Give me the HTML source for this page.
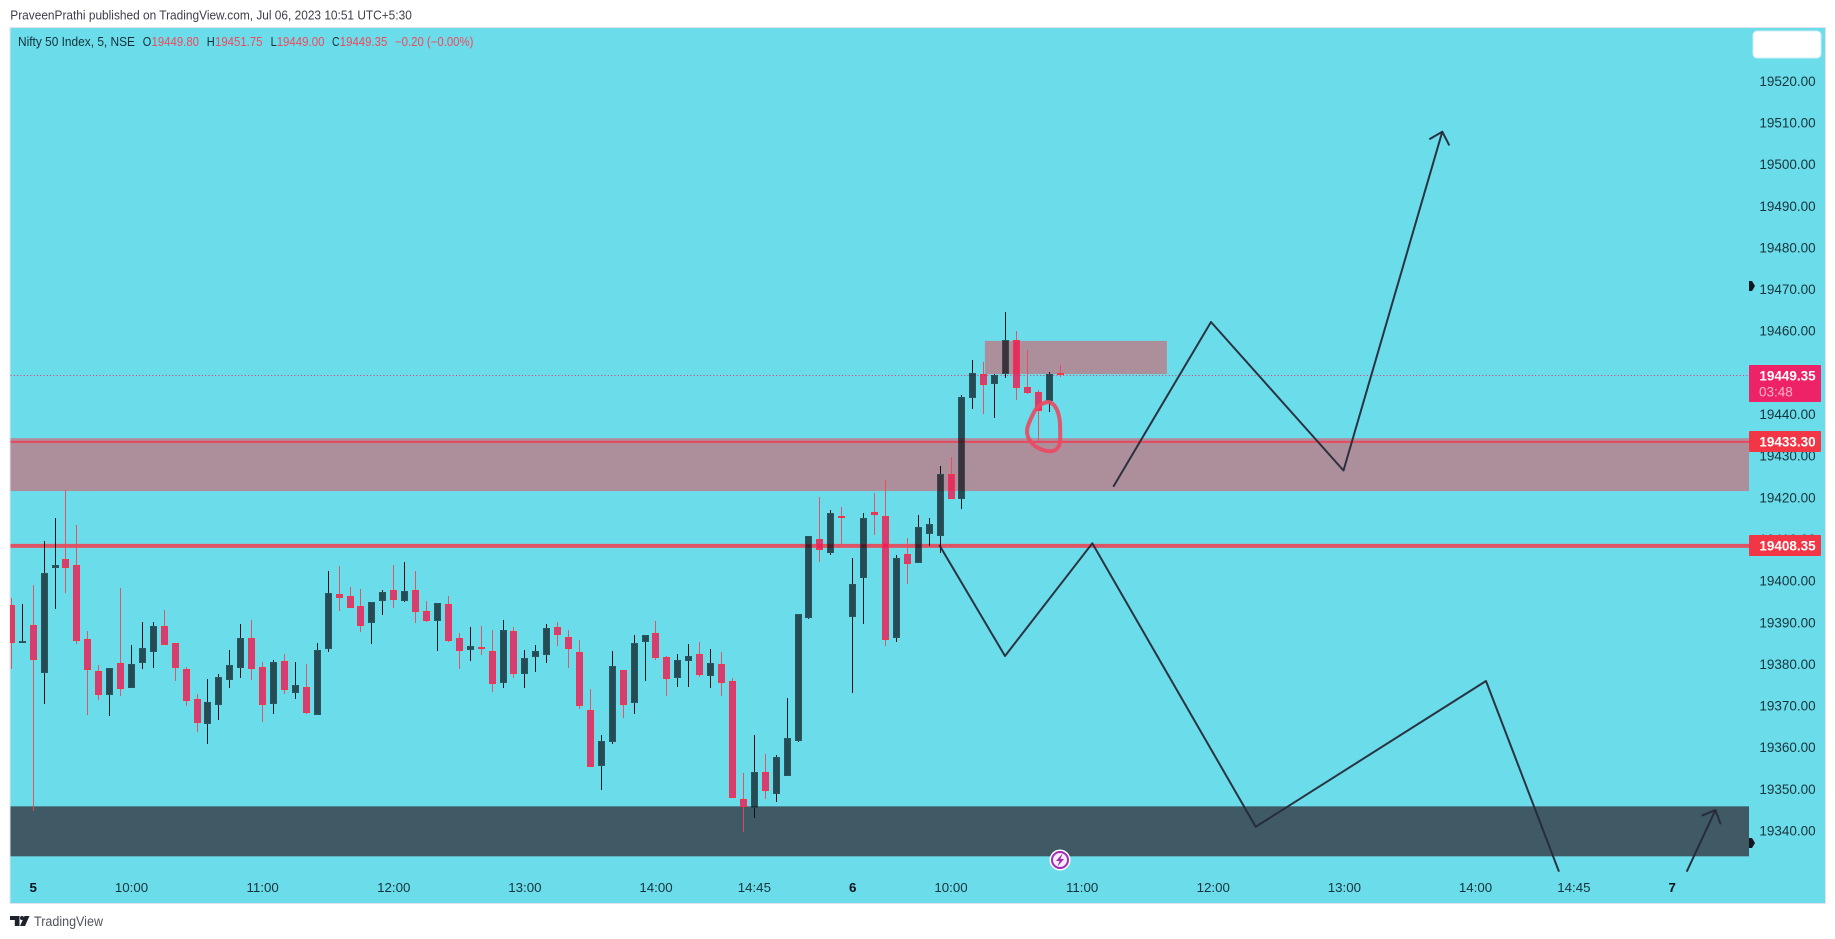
<!DOCTYPE html>
<html lang="en">
<head>
<meta charset="utf-8">
<title>Nifty 50 Index chart</title>
<style>
html,body{margin:0;padding:0;background:#fff;width:1835px;height:939px;overflow:hidden}
svg{display:block;font-family:"Liberation Sans",sans-serif}
</style>
</head>
<body>
<svg id="chart" width="1835" height="939" viewBox="0 0 1835 939" xmlns="http://www.w3.org/2000/svg">
  <rect x="0" y="0" width="1835" height="939" fill="#ffffff"/>
  <text x="10.3" y="19.5" font-size="13" fill="#3c3f4a" textLength="401.5" lengthAdjust="spacingAndGlyphs">PraveenPrathi published on TradingView.com, Jul 06, 2023 10:51 UTC+5:30</text>
  <rect x="10" y="27.5" width="1815.5" height="876" fill="#6bdcea" stroke="#e0e3eb" stroke-width="1"/>
  <g id="zones"></g>
  <g id="levels"></g>
  <g id="candles"></g>
  <g id="drawings"></g>
  <g id="ticks"></g>
  <g id="times"></g>
  <g id="labels"></g>

  <g font-size="12.5">
    <text x="18" y="46" fill="#12303a" textLength="117" lengthAdjust="spacingAndGlyphs">Nifty 50 Index, 5, NSE</text>
    <text x="142.7" y="46" fill="#12303a" textLength="8.5" lengthAdjust="spacingAndGlyphs">O</text>
    <text x="151.5" y="46" fill="#ef4a5c" textLength="47.5" lengthAdjust="spacingAndGlyphs">19449.80</text>
    <text x="206.7" y="46" fill="#12303a" textLength="8" lengthAdjust="spacingAndGlyphs">H</text>
    <text x="215" y="46" fill="#ef4a5c" textLength="47.5" lengthAdjust="spacingAndGlyphs">19451.75</text>
    <text x="270.6" y="46" fill="#12303a" textLength="6" lengthAdjust="spacingAndGlyphs">L</text>
    <text x="276.7" y="46" fill="#ef4a5c" textLength="47.8" lengthAdjust="spacingAndGlyphs">19449.00</text>
    <text x="332" y="46" fill="#12303a" textLength="7.5" lengthAdjust="spacingAndGlyphs">C</text>
    <text x="339.8" y="46" fill="#ef4a5c" textLength="47.5" lengthAdjust="spacingAndGlyphs">19449.35</text>
    <text x="395" y="46" fill="#ef4a5c" textLength="78.4" lengthAdjust="spacingAndGlyphs">−0.20 (−0.00%)</text>
  </g>

  <rect x="1753" y="31" width="68" height="27" rx="4" fill="#ffffff" stroke="#cfeef3" stroke-width="1"/>
  <polygon points="1749,281 1752,281 1755,286 1752,291 1749,291" fill="#131722"/>
  <polygon points="1749,838 1752,838 1755,843 1752,848 1749,848" fill="#131722"/>

  <g>
    <circle cx="1060" cy="860" r="10.5" fill="#ffffff"/>
    <circle cx="1060" cy="860" r="8" fill="#f4ecf6" stroke="#a02cb8" stroke-width="2"/>
    <polygon points="1062.5,853.5 1056,861 1059.5,861 1057.5,866.5 1064,859 1060.5,859" fill="#a02cb8"/>
  </g>

  <g>
    <path d="M10 916h9.5v10h-4.7v-6H10z" fill="#1e222d"/>
    <circle cx="22" cy="918" r="2" fill="#1e222d"/>
    <polygon points="24.5,916 29.5,916 25,926 20,926" fill="#1e222d"/>
    <text x="34" y="926" font-size="13.5" fill="#50535e" textLength="69" lengthAdjust="spacingAndGlyphs">TradingView</text>
  </g>
</svg>

<script>
var opens = [19394.2,19385.1,19389.4,19377.9,19403.1,19405.2,19403.8,19386.0,19378.3,19372.6,19380.2,19374.2,19380.2,19382.9,19389.1,19385.0,19378.8,19371.6,19365.6,19370.2,19376.2,19379.0,19386.2,19379.3,19370.4,19380.7,19373.0,19374.5,19367.8,19383.6,19396.8,19396.3,19393.9,19389.8,19395.1,19397.8,19395.1,19397.8,19392.7,19390.3,19394.4,19386.2,19383.4,19384.1,19383.1,19375.4,19387.9,19377.6,19381.7,19382.2,19388.9,19386.5,19382.9,19369.0,19355.5,19361.3,19378.6,19370.6,19385.3,19387.4,19381.7,19376.6,19380.7,19382.4,19377.1,19380.0,19375.9,19347.6,19345.4,19354.1,19348.8,19353.1,19361.5,19391.0,19410.0,19406.6,19415.5,19391.3,19400.6,19416.5,19415.5,19386.2,19406.4,19404.2,19411.2,19410.7,19425.6,19419.6,19443.8,19449.6,19447.2,19449.6,19457.8,19446.5,19445.3,19443.1,19449.8];
var highs = [19395.8,19394.4,19399.0,19409.5,19415.0,19421.8,19413.4,19387.9,19379.8,19379.0,19398.2,19384.6,19390.1,19390.1,19393.0,19385.0,19379.3,19372.8,19376.4,19377.6,19383.4,19389.6,19390.6,19380.5,19381.0,19382.4,19380.5,19380.0,19385.0,19402.3,19403.5,19398.5,19398.0,19394.9,19397.8,19403.8,19404.5,19402.3,19395.1,19394.6,19396.3,19387.4,19388.9,19389.1,19388.2,19390.6,19388.9,19383.4,19384.6,19389.6,19390.1,19388.2,19385.8,19374.0,19363.0,19383.1,19378.6,19387.0,19387.0,19390.3,19381.9,19382.4,19384.8,19385.3,19383.6,19382.9,19376.6,19353.8,19363.0,19358.4,19358.2,19371.8,19392.0,19410.7,19420.1,19417.0,19417.7,19405.4,19416.2,19421.0,19424.2,19406.2,19410.2,19415.8,19415.0,19427.5,19429.7,19444.6,19453.0,19452.5,19449.6,19464.5,19459.9,19455.4,19445.8,19450.1,19451.75];
var lows = [19378.8,19385.1,19344.7,19370.4,19393.2,19397.0,19384.8,19367.8,19371.4,19367.5,19372.3,19374.2,19378.8,19379.0,19384.6,19375.9,19369.9,19363.7,19360.8,19366.6,19374.2,19376.6,19376.2,19366.1,19368.0,19372.8,19371.6,19368.0,19367.8,19382.9,19392.7,19393.4,19387.7,19384.8,19391.8,19393.4,19394.9,19389.8,19390.1,19383.1,19385.3,19378.8,19380.7,19382.2,19373.3,19374.2,19376.6,19374.2,19378.1,19380.2,19384.3,19379.0,19369.2,19355.3,19349.8,19360.8,19367.0,19368.0,19375.9,19381.0,19372.3,19374.5,19374.5,19376.9,19374.2,19372.3,19347.8,19339.7,19343.0,19347.6,19346.9,19353.1,19361.3,19390.8,19404.5,19406.2,19408.8,19373.0,19389.6,19411.0,19384.3,19385.3,19399.2,19404.2,19408.3,19406.7,19419.6,19417.2,19441.2,19440.0,19439.0,19448.6,19443.4,19444.8,19433.0,19440.5,19449.0];
var closes = [19384.9,19385.5,19381.0,19401.8,19403.8,19403.1,19385.4,19378.6,19372.6,19379.0,19374.0,19380.0,19383.8,19389.1,19384.6,19379.0,19371.1,19365.8,19370.9,19376.9,19379.8,19386.2,19378.8,19370.2,19380.5,19373.8,19375.0,19368.2,19383.4,19397.0,19395.8,19393.4,19389.1,19394.9,19397.3,19395.4,19397.5,19392.5,19390.3,19394.6,19385.5,19383.1,19384.3,19383.6,19375.2,19388.2,19377.6,19381.4,19383.1,19388.6,19387.0,19383.6,19369.9,19355.3,19361.5,19379.5,19370.2,19385.0,19387.0,19381.4,19376.4,19381.0,19381.9,19377.4,19380.2,19375.4,19347.8,19345.7,19354.1,19349.5,19357.7,19362.2,19392.0,19410.7,19407.4,19416.2,19415.0,19399.2,19415.0,19415.8,19385.8,19405.4,19404.0,19412.9,19413.6,19425.6,19419.6,19444.1,19449.8,19447.0,19449.4,19457.8,19446.2,19445.0,19440.7,19449.6,19449.35];

var priceTicks = ["19520.00","19510.00","19500.00","19490.00","19480.00","19470.00","19460.00","19440.00","19430.00","19420.00","19410.00","19400.00","19390.00","19380.00","19370.00","19360.00","19350.00","19340.00"];
var timeLabels = ["5","10:00","11:00","12:00","13:00","14:00","14:45","6","10:00","11:00","12:00","13:00","14:00","14:45","7"];
var timeBars = [2,11,23,35,47,59,68,77,86,98,110,122,134,143,152];

var lastPrice = 19449.35;
var supportLevel = 19433.30;
var resistanceLevel = 19408.35;
var pinkZonePrices = [19434.2,19421.5];
var darkZonePrices = [19345.8,19333.8];
var smallZoneBars = [89.1,105.76];
var smallZonePrices = [19457.55,19449.6];

var upPathBars = [100.85,109.79,121.92,130.96];
var upPathPrices = [19422.55,19462.09,19426.43,19507.78];
var upHeadBars = [129.77,130.96,131.6];
var upHeadPrices = [19505.95,19507.78,19504.5];
var downPathBars = [84.93,90.94,98.93,113.88,134.96,141.64];
var downPathPrices = [19408.55,19381.9,19408.96,19340.9,19375.9,19330.1];
var tailBars = [153.33,155.95];
var tailPrices = [19330.1,19344.9];
var tailHeadBars = [154.7,155.95,156.44];
var tailHeadPrices = [19343.55,19344.9,19341.5];
var circleBars = [94.6,95.06,95.61,95.97,96.0,95.97,95.51,94.75,93.84,93.23,92.86,93.23,93.84];
var circlePrices = [19442.8,19442.96,19441.76,19438.96,19434.56,19432.55,19431.1,19431.03,19431.92,19433.36,19435.76,19438.56,19441.76];

var PANE_LEFT = 10.5, PANE_RIGHT = 1749;
function xOf(bar){ return 11.3 + bar * 10.927; }
function yOf(price){ return 414 + (19440 - price) * 4.165; }
function make(parent, tag, attrs, text){
  var el = document.createElementNS('http://www.w3.org/2000/svg', tag);
  for (var k in attrs) el.setAttribute(k, attrs[k]);
  if (text !== undefined) el.textContent = text;
  parent.appendChild(el);
  return el;
}
function pts(bars, prices){
  return bars.map(function(b, i){ return xOf(b).toFixed(1) + ',' + yOf(prices[i]).toFixed(1); }).join(' ');
}

var zones = document.getElementById('zones');
var pz = make(zones, 'rect', {x:PANE_LEFT, y:yOf(pinkZonePrices[0]), width:PANE_RIGHT-PANE_LEFT, height:yOf(pinkZonePrices[1])-yOf(pinkZonePrices[0]), fill:'#ad8f9c'});


var dz = make(zones, 'rect', {x:PANE_LEFT, y:yOf(darkZonePrices[0]), width:PANE_RIGHT-PANE_LEFT, height:yOf(darkZonePrices[1])-yOf(darkZonePrices[0]), fill:'#3f5a65'});


var sz = make(zones, 'rect', {x:xOf(smallZoneBars[0]), y:yOf(smallZonePrices[0]), width:xOf(smallZoneBars[1])-xOf(smallZoneBars[0]), height:yOf(smallZonePrices[1])-yOf(smallZonePrices[0]), fill:'#ad8f9c'});



var levels = document.getElementById('levels');
var l1 = make(levels, 'line', {x1:PANE_LEFT, x2:PANE_RIGHT, y1:yOf(supportLevel), y2:yOf(supportLevel), stroke:'#e8475f', 'stroke-width':2});


var l2 = make(levels, 'line', {x1:PANE_LEFT, x2:PANE_RIGHT, y1:yOf(resistanceLevel), y2:yOf(resistanceLevel), stroke:'#de5464', 'stroke-width':4});


var l3 = make(levels, 'line', {x1:PANE_LEFT, x2:PANE_RIGHT, y1:Math.floor(yOf(lastPrice))+0.5, y2:Math.floor(yOf(lastPrice))+0.5, stroke:'#e0356f', 'stroke-width':1, 'stroke-dasharray':'1 2.3'});



var candles = document.getElementById('candles');
opens.forEach(function(o, i){
  var c = closes[i], down = c < o;
  var cx = Math.floor(xOf(i)) + 0.5;
  var g = make(candles, 'g', {});
  
  
  var top = Math.round(yOf(Math.max(o, c))), bot = Math.round(yOf(Math.min(o, c)));
  if (bot - top < 2) bot = top + 2;
  var wick = down ? 'rgba(238,70,90,0.9)' : '#06161a';
  var hi = Math.round(yOf(highs[i])), lo = Math.round(yOf(lows[i]));
  if (hi < top) make(g, 'line', {x1:cx, x2:cx, y1:hi, y2:top, stroke:wick, 'stroke-width':1});
  if (lo > bot) make(g, 'line', {x1:cx, x2:cx, y1:bot, y2:lo, stroke:wick, 'stroke-width':1});
  var left = Math.max(cx - 3, PANE_LEFT);
  var right = cx + 3;
  if (bot - top > 2) {
    make(g, 'rect', {x:left + 0.5, y:top + 1, width:right - left - 1, height:bot - top - 2,
      fill:down ? 'rgba(242,18,84,0.78)' : 'rgba(3,5,10,0.67)'});
  }
  make(g, 'rect', {x:left, y:top + 0.5, width:right - left, height:bot - top - 1,
    fill:'none', stroke:down ? '#f23645' : 'rgba(30,62,72,0.85)', 'stroke-width':1});
});

var drawings = document.getElementById('drawings');
var lineStyle = {fill:'none', stroke:'#252a38', 'stroke-width':2, 'stroke-linejoin':'round', opacity:0.95};
function poly(bars, prices){
  var a = {points:pts(bars, prices)};
  for (var k in lineStyle) a[k] = lineStyle[k];
  return make(drawings, 'polyline', a);
}
var d1 = poly(upPathBars, upPathPrices);


var d2 = poly(upHeadBars, upHeadPrices);


var d3 = poly(downPathBars, downPathPrices);


var d4 = poly(tailBars, tailPrices);


var d5 = poly(tailHeadBars, tailHeadPrices);



function smoothClosed(bars, prices){
  var n = bars.length, d = '';
  for (var i = 0; i < n; i++) {
    var j = (i + 1) % n;
    var px = xOf(bars[i]), py = yOf(prices[i]);
    var mx = (px + xOf(bars[j])) / 2, my = (py + yOf(prices[j])) / 2;
    if (i === 0) {
      var k = n - 1;
      d += 'M' + ((px + xOf(bars[k])) / 2).toFixed(1) + ' ' + ((py + yOf(prices[k])) / 2).toFixed(1);
    }
    d += 'Q' + px.toFixed(1) + ' ' + py.toFixed(1) + ' ' + mx.toFixed(1) + ' ' + my.toFixed(1);
  }
  return d + 'Z';
}
var ring = make(drawings, 'path', {d:smoothClosed(circleBars, circlePrices), fill:'none', stroke:'#ea4a62', 'stroke-width':4, 'stroke-linejoin':'round', opacity:0.92});



var ticks = document.getElementById('ticks');
priceTicks.forEach(function(t){
  var el = make(ticks, 'text', {x:1815.7, y:yOf(parseFloat(t)) + 5, 'text-anchor':'end', 'font-size':13.5, fill:'#17343c'}, t);
  
  
});

var times = document.getElementById('times');
timeLabels.forEach(function(t, i){
  var isDay = t.indexOf(':') < 0;
  var el = make(times, 'text', {x:xOf(timeBars[i]), y:892, 'text-anchor':'middle', 'font-size':13.3, 'font-weight':isDay ? 'bold' : 'normal', fill:isDay ? '#05131a' : '#17343c'}, t);
  
  
});

var labels = document.getElementById('labels');
function priceBox(price, h, color, name){
  var cy = yOf(price);
  var top = Math.round(cy - 10.5);
  var r = make(labels, 'rect', {x:1749, y:top, width:72, height:h, fill:color, rx:1});
  
  
  var t = make(labels, 'text', {x:1815.7, y:top + 15.5, 'text-anchor':'end', 'font-size':13.5, 'font-weight':'bold', fill:'#ffffff'}, price.toFixed(2));
  
  
  return top;
}
var lastTop = priceBox(lastPrice, 37, '#ee2266', 'last-price');
priceBox(supportLevel, 21, '#f23645', 'level-19433');
priceBox(resistanceLevel, 21, '#f23645', 'level-19408');
var countdown = make(labels, 'text', {x:1759, y:lastTop + 31.5, 'font-size':13.5, fill:'#ffb3cb'}, '03:48');


</script>
</body>
</html>
